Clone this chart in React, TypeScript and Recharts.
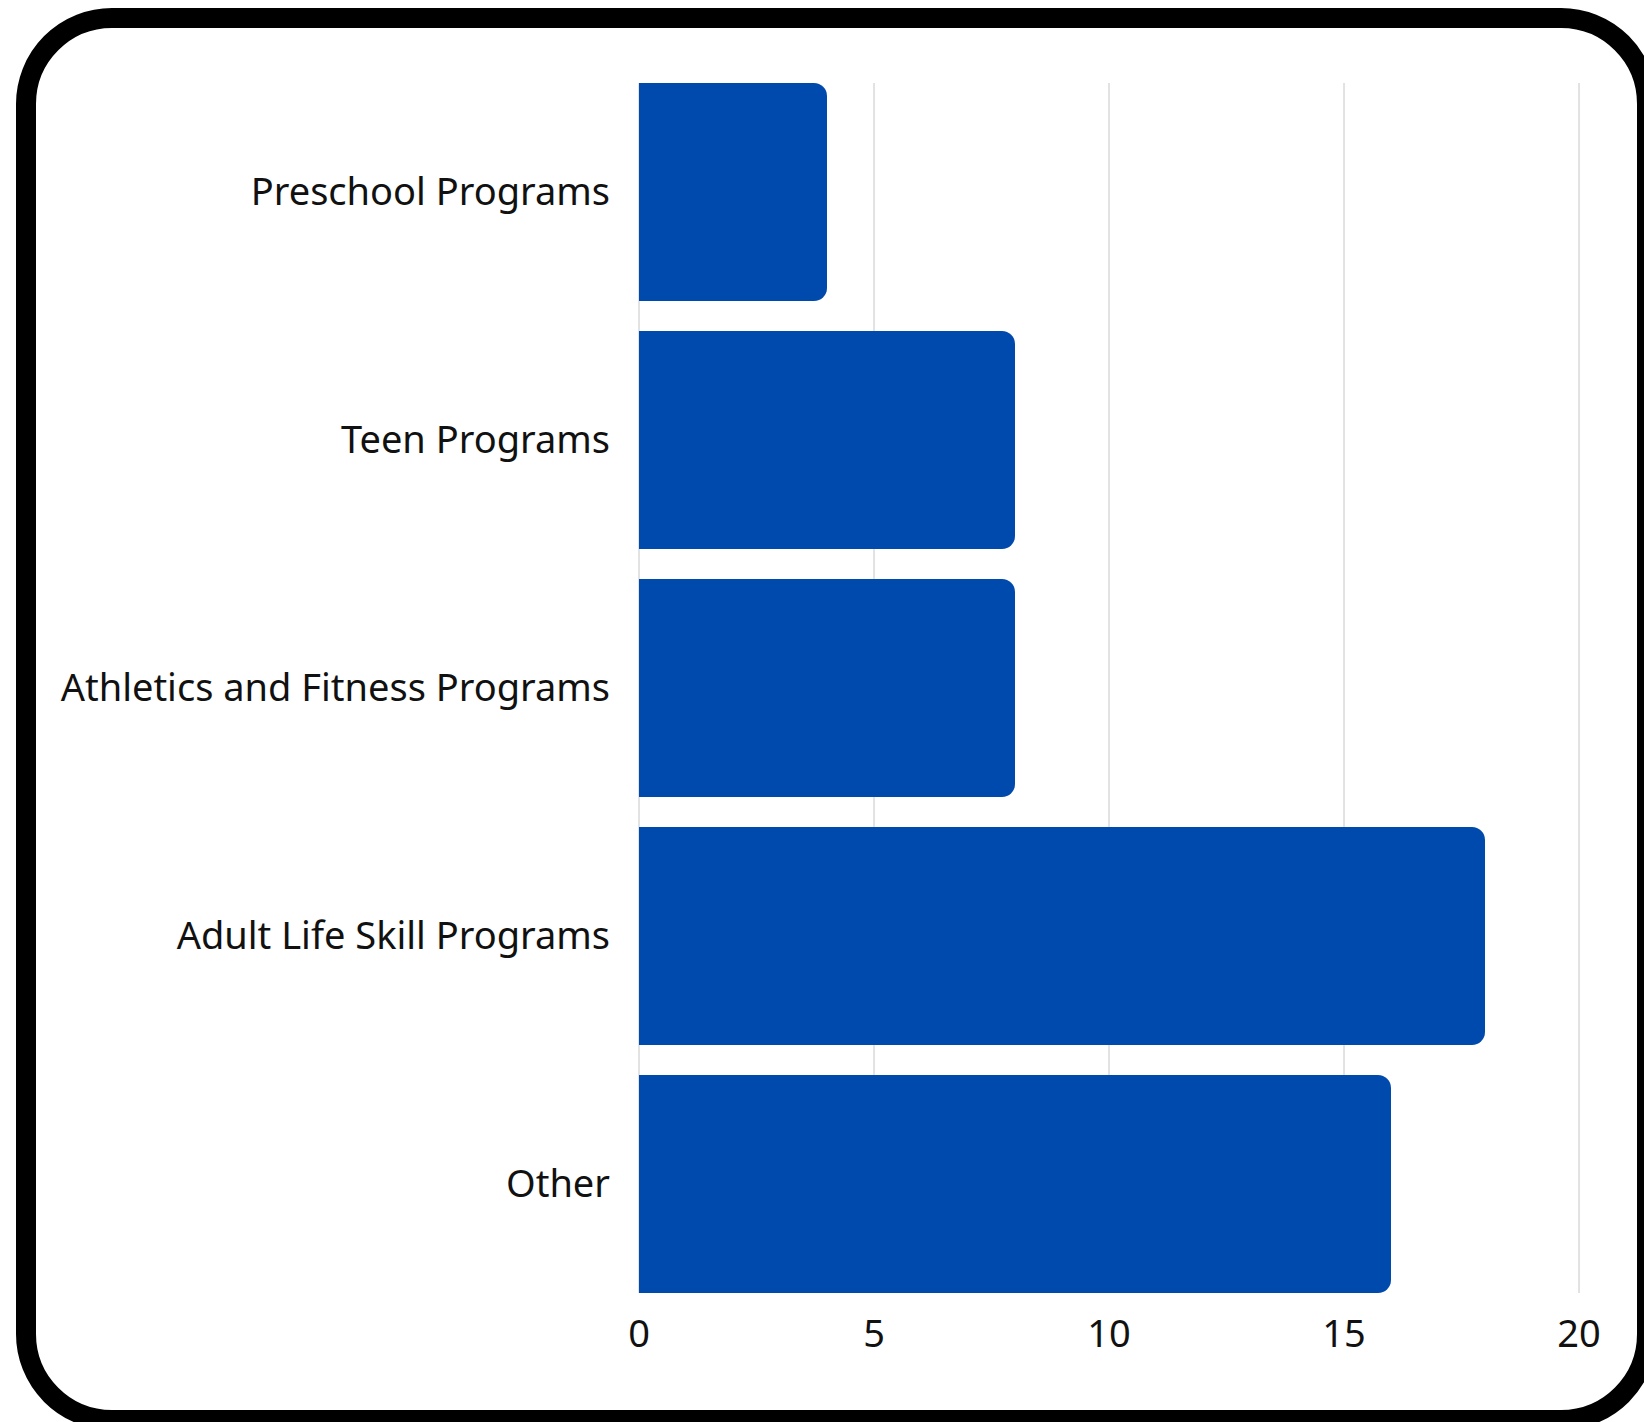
import React from 'react';
import { BarChart, Bar, XAxis, YAxis, CartesianGrid } from 'recharts';

const programs = [
  'Preschool Programs',
  'Teen Programs',
  'Athletics and Fitness Programs',
  'Adult Life Skill Programs',
  'Other',
];
const counts = [4, 8, 8, 18, 16];
const xTicks = [0, 5, 10, 15, 20];

const data = programs.map((name, i) => ({ name, value: counts[i] }));

const font = '"Noto Sans", "Open Sans", sans-serif';

const App = () => {
  return (
    <div style={{ position: 'absolute', left: 0, top: 0, width: 1644, height: 1422, overflow: 'hidden', background: '#fff' }}>
      <div
        style={{
          position: 'absolute',
          left: 16,
          top: 8,
          width: 1641,
          height: 1422,
          boxSizing: 'border-box',
          border: '20px solid #000',
          borderRadius: 96,
        }}
      />
      <div style={{ position: 'absolute', left: 0, top: 0 }}>
        <BarChart
          width={1644}
          height={1422}
          data={data}
          layout="vertical"
          margin={{ top: 83, right: 65, left: 0, bottom: 99 }}
        >
          <CartesianGrid horizontal={false} stroke="#c6c6c6" strokeWidth={1} />
          <XAxis
            type="number"
            domain={[0, 20]}
            ticks={xTicks}
            height={30}
            axisLine={false}
            tickLine={false}
            tickSize={0}
            tickMargin={27}
            tick={{ fill: '#111', fontSize: 38, fontFamily: font }}
          />
          <YAxis
            type="category"
            dataKey="name"
            width={639}
            axisLine={false}
            tickLine={false}
            tickSize={0}
            tickMargin={29}
            padding={{ top: -15, bottom: -15 }}
            interval={0}
            tick={{ fill: '#111', fontSize: 38, fontFamily: font }}
          />
          <Bar dataKey="value" fill="#004AAD" barSize={218} radius={[0, 13, 13, 0]} isAnimationActive={false} />
        </BarChart>
      </div>
    </div>
  );
};

export default App;
